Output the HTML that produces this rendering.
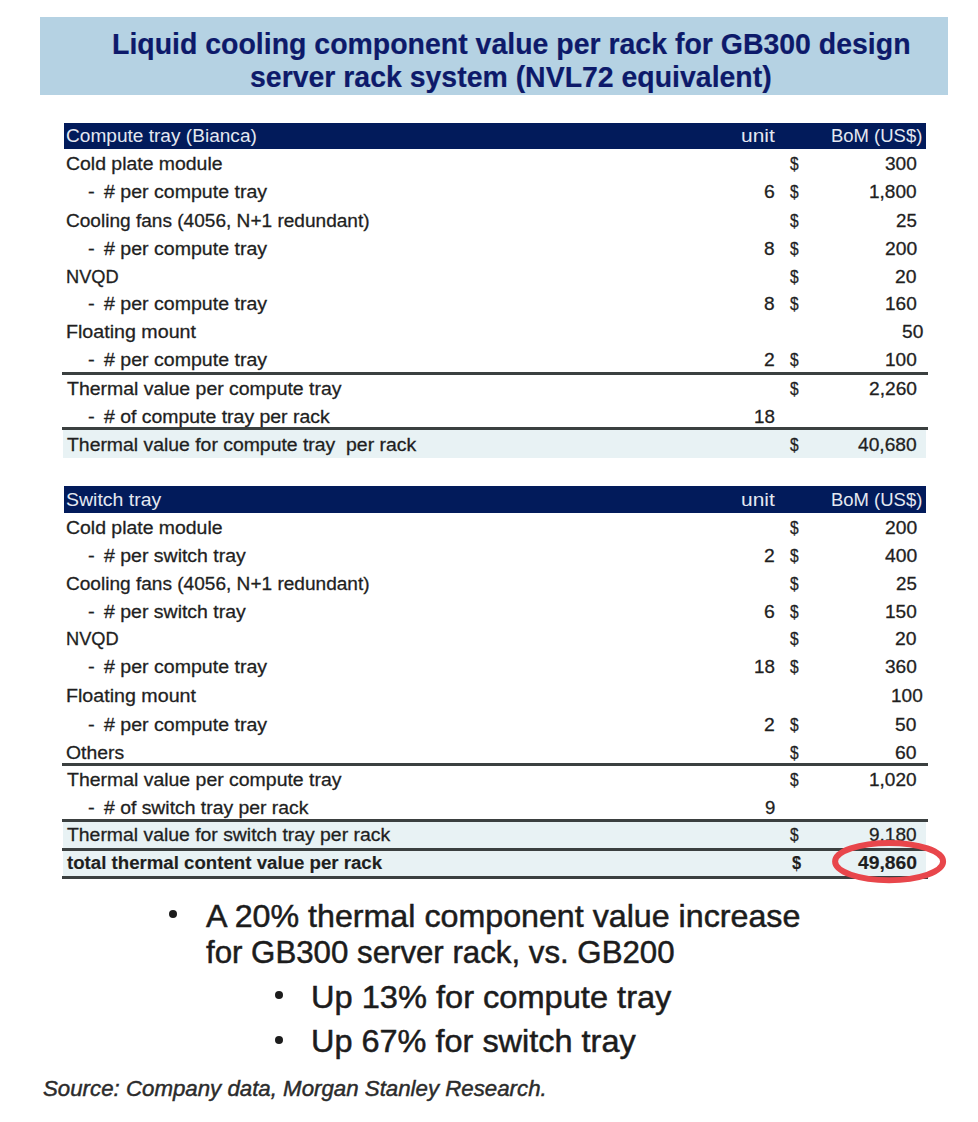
<!DOCTYPE html>
<html><head><meta charset="utf-8"><style>
html,body{margin:0;padding:0;background:#fff;}
body{width:978px;height:1122px;position:relative;overflow:hidden;font-family:"Liberation Sans", sans-serif;}
#w{position:absolute;left:0;top:0;width:978px;height:1122px;}
.t{position:absolute;white-space:pre;line-height:1;transform-origin:0 0;-webkit-text-stroke:0.3px currentColor;}
.r{position:absolute;}
</style></head><body><div id="w">
<div class="r" style="left:40.20px;top:16.80px;width:908.30px;height:77.90px;background:#b5d2e3"></div>
<div class="t" style="left:111.80px;top:30.00px;font-size:28.8px;font-weight:bold;color:#0d1a6a;-webkit-text-stroke:0.2px currentColor;transform:scaleX(0.9882)">Liquid cooling component value per rack for GB300 design</div>
<div class="t" style="left:250.30px;top:63.00px;font-size:28.8px;font-weight:bold;color:#0d1a6a;-webkit-text-stroke:0.2px currentColor;transform:scaleX(0.9876)">server rack system (NVL72 equivalent)</div>
<div class="r" style="left:63.70px;top:122.70px;width:862.80px;height:26.80px;background:#021b5b"></div>
<div class="t" style="left:66.03px;top:127.00px;font-size:18.9px;font-weight:normal;font-style:normal;color:#e4e8f1;transform:scaleX(1.0099);-webkit-text-stroke:0">Compute tray (Bianca)</div>
<div class="t" style="left:740.57px;top:127.00px;font-size:18.9px;font-weight:normal;font-style:normal;color:#e4e8f1;transform:scaleX(1.1086);-webkit-text-stroke:0">unit</div>
<div class="t" style="left:831.10px;top:127.00px;font-size:18.9px;font-weight:normal;font-style:normal;color:#e4e8f1;transform:scaleX(0.9773);-webkit-text-stroke:0">BoM (US$)</div>
<div class="r" style="left:62.00px;top:372.20px;width:865.70px;height:3.00px;background:#3b4040"></div>
<div class="r" style="left:62.60px;top:430.00px;width:863.90px;height:27.50px;background:#e8f2f4"></div>
<div class="r" style="left:62.00px;top:427.00px;width:865.70px;height:3.00px;background:#3b4040"></div>
<div class="t" style="left:66.31px;top:155.00px;font-size:18.9px;font-weight:normal;font-style:normal;color:#1f1f1f;transform:scaleX(1.0279);">Cold plate module</div>
<div class="t" style="left:790.33px;top:155.00px;font-size:18.9px;font-weight:normal;font-style:normal;color:#1f1f1f;transform:scaleX(0.8200);">$</div>
<div class="t" style="left:884.86px;top:155.00px;font-size:18.9px;font-weight:normal;font-style:normal;color:#1f1f1f;transform:scaleX(1.0112);">300</div>
<div class="t" style="left:87.81px;top:183.00px;font-size:18.9px;font-weight:normal;font-style:normal;color:#1f1f1f;transform:scaleX(1.0622);">-</div>
<div class="t" style="left:104.21px;top:183.00px;font-size:18.9px;font-weight:normal;font-style:normal;color:#1f1f1f;transform:scaleX(1.0356);"># per compute tray</div>
<div class="t" style="left:764.24px;top:183.00px;font-size:18.9px;font-weight:normal;font-style:normal;color:#1f1f1f;transform:scaleX(1.0288);">6</div>
<div class="t" style="left:790.33px;top:183.00px;font-size:18.9px;font-weight:normal;font-style:normal;color:#1f1f1f;transform:scaleX(0.8200);">$</div>
<div class="t" style="left:869.09px;top:183.00px;font-size:18.9px;font-weight:normal;font-style:normal;color:#1f1f1f;transform:scaleX(1.0075);">1,800</div>
<div class="t" style="left:66.33px;top:212.00px;font-size:18.9px;font-weight:normal;font-style:normal;color:#1f1f1f;transform:scaleX(1.0091);">Cooling fans (4056, N+1 redundant)</div>
<div class="t" style="left:790.33px;top:212.00px;font-size:18.9px;font-weight:normal;font-style:normal;color:#1f1f1f;transform:scaleX(0.8200);">$</div>
<div class="t" style="left:895.96px;top:212.00px;font-size:18.9px;font-weight:normal;font-style:normal;color:#1f1f1f;transform:scaleX(0.9909);">25</div>
<div class="t" style="left:87.81px;top:240.00px;font-size:18.9px;font-weight:normal;font-style:normal;color:#1f1f1f;transform:scaleX(1.0622);">-</div>
<div class="t" style="left:104.21px;top:240.00px;font-size:18.9px;font-weight:normal;font-style:normal;color:#1f1f1f;transform:scaleX(1.0356);"># per compute tray</div>
<div class="t" style="left:764.41px;top:240.00px;font-size:18.9px;font-weight:normal;font-style:normal;color:#1f1f1f;transform:scaleX(1.0105);">8</div>
<div class="t" style="left:790.33px;top:240.00px;font-size:18.9px;font-weight:normal;font-style:normal;color:#1f1f1f;transform:scaleX(0.8200);">$</div>
<div class="t" style="left:884.59px;top:240.00px;font-size:18.9px;font-weight:normal;font-style:normal;color:#1f1f1f;transform:scaleX(1.0201);">200</div>
<div class="t" style="left:65.80px;top:268.00px;font-size:18.9px;font-weight:normal;font-style:normal;color:#1f1f1f;transform:scaleX(0.9646);">NVQD</div>
<div class="t" style="left:790.33px;top:268.00px;font-size:18.9px;font-weight:normal;font-style:normal;color:#1f1f1f;transform:scaleX(0.8200);">$</div>
<div class="t" style="left:895.23px;top:268.00px;font-size:18.9px;font-weight:normal;font-style:normal;color:#1f1f1f;transform:scaleX(1.0241);">20</div>
<div class="t" style="left:87.81px;top:295.00px;font-size:18.9px;font-weight:normal;font-style:normal;color:#1f1f1f;transform:scaleX(1.0622);">-</div>
<div class="t" style="left:104.21px;top:295.00px;font-size:18.9px;font-weight:normal;font-style:normal;color:#1f1f1f;transform:scaleX(1.0356);"># per compute tray</div>
<div class="t" style="left:764.41px;top:295.00px;font-size:18.9px;font-weight:normal;font-style:normal;color:#1f1f1f;transform:scaleX(1.0105);">8</div>
<div class="t" style="left:790.33px;top:295.00px;font-size:18.9px;font-weight:normal;font-style:normal;color:#1f1f1f;transform:scaleX(0.8200);">$</div>
<div class="t" style="left:884.98px;top:295.00px;font-size:18.9px;font-weight:normal;font-style:normal;color:#1f1f1f;transform:scaleX(1.0074);">160</div>
<div class="t" style="left:65.69px;top:323.00px;font-size:18.9px;font-weight:normal;font-style:normal;color:#1f1f1f;transform:scaleX(1.0402);">Floating mount</div>
<div class="t" style="left:901.64px;top:323.00px;font-size:18.9px;font-weight:normal;font-style:normal;color:#1f1f1f;transform:scaleX(1.0134);">50</div>
<div class="t" style="left:87.81px;top:351.00px;font-size:18.9px;font-weight:normal;font-style:normal;color:#1f1f1f;transform:scaleX(1.0622);">-</div>
<div class="t" style="left:104.21px;top:351.00px;font-size:18.9px;font-weight:normal;font-style:normal;color:#1f1f1f;transform:scaleX(1.0356);"># per compute tray</div>
<div class="t" style="left:764.42px;top:351.00px;font-size:18.9px;font-weight:normal;font-style:normal;color:#1f1f1f;transform:scaleX(1.0230);">2</div>
<div class="t" style="left:790.33px;top:351.00px;font-size:18.9px;font-weight:normal;font-style:normal;color:#1f1f1f;transform:scaleX(0.8200);">$</div>
<div class="t" style="left:884.98px;top:351.00px;font-size:18.9px;font-weight:normal;font-style:normal;color:#1f1f1f;transform:scaleX(1.0074);">100</div>
<div class="t" style="left:66.86px;top:380.00px;font-size:18.9px;font-weight:normal;font-style:normal;color:#1f1f1f;transform:scaleX(1.0292);">Thermal value per compute tray</div>
<div class="t" style="left:790.33px;top:380.00px;font-size:18.9px;font-weight:normal;font-style:normal;color:#1f1f1f;transform:scaleX(0.8200);">$</div>
<div class="t" style="left:868.71px;top:380.00px;font-size:18.9px;font-weight:normal;font-style:normal;color:#1f1f1f;transform:scaleX(1.0158);">2,260</div>
<div class="t" style="left:87.81px;top:408.00px;font-size:18.9px;font-weight:normal;font-style:normal;color:#1f1f1f;transform:scaleX(1.0622);">-</div>
<div class="t" style="left:104.21px;top:408.00px;font-size:18.9px;font-weight:normal;font-style:normal;color:#1f1f1f;transform:scaleX(1.0285);"># of compute tray per rack</div>
<div class="t" style="left:754.14px;top:408.00px;font-size:18.9px;font-weight:normal;font-style:normal;color:#1f1f1f;transform:scaleX(0.9931);">18</div>
<div class="t" style="left:66.86px;top:436.00px;font-size:18.9px;font-weight:normal;font-style:normal;color:#1f1f1f;transform:scaleX(1.0263);">Thermal value for compute tray  per rack</div>
<div class="t" style="left:790.33px;top:436.00px;font-size:18.9px;font-weight:normal;font-style:normal;color:#1f1f1f;transform:scaleX(0.8200);">$</div>
<div class="t" style="left:858.00px;top:436.00px;font-size:18.9px;font-weight:normal;font-style:normal;color:#1f1f1f;transform:scaleX(1.0162);">40,680</div>
<div class="r" style="left:63.70px;top:485.50px;width:862.80px;height:27.00px;background:#021b5b"></div>
<div class="t" style="left:66.11px;top:491.00px;font-size:18.9px;font-weight:normal;font-style:normal;color:#e4e8f1;transform:scaleX(1.0312);-webkit-text-stroke:0">Switch tray</div>
<div class="t" style="left:740.57px;top:491.00px;font-size:18.9px;font-weight:normal;font-style:normal;color:#e4e8f1;transform:scaleX(1.1086);-webkit-text-stroke:0">unit</div>
<div class="t" style="left:831.10px;top:491.00px;font-size:18.9px;font-weight:normal;font-style:normal;color:#e4e8f1;transform:scaleX(0.9773);-webkit-text-stroke:0">BoM (US$)</div>
<div class="r" style="left:62.00px;top:763.00px;width:865.70px;height:3.00px;background:#3b4040"></div>
<div class="r" style="left:62.60px;top:822.00px;width:863.90px;height:54.00px;background:#e8f2f4"></div>
<div class="r" style="left:62.00px;top:819.00px;width:865.70px;height:3.00px;background:#3b4040"></div>
<div class="r" style="left:62.00px;top:848.00px;width:865.70px;height:3.00px;background:#3b4040"></div>
<div class="r" style="left:62.00px;top:876.00px;width:865.70px;height:3.00px;background:#3b4040"></div>
<div class="t" style="left:66.31px;top:519.00px;font-size:18.9px;font-weight:normal;font-style:normal;color:#1f1f1f;transform:scaleX(1.0279);">Cold plate module</div>
<div class="t" style="left:790.33px;top:519.00px;font-size:18.9px;font-weight:normal;font-style:normal;color:#1f1f1f;transform:scaleX(0.8200);">$</div>
<div class="t" style="left:884.59px;top:519.00px;font-size:18.9px;font-weight:normal;font-style:normal;color:#1f1f1f;transform:scaleX(1.0201);">200</div>
<div class="t" style="left:87.81px;top:547.00px;font-size:18.9px;font-weight:normal;font-style:normal;color:#1f1f1f;transform:scaleX(1.0622);">-</div>
<div class="t" style="left:104.21px;top:547.00px;font-size:18.9px;font-weight:normal;font-style:normal;color:#1f1f1f;transform:scaleX(1.0313);"># per switch tray</div>
<div class="t" style="left:764.42px;top:547.00px;font-size:18.9px;font-weight:normal;font-style:normal;color:#1f1f1f;transform:scaleX(1.0230);">2</div>
<div class="t" style="left:790.33px;top:547.00px;font-size:18.9px;font-weight:normal;font-style:normal;color:#1f1f1f;transform:scaleX(0.8200);">$</div>
<div class="t" style="left:884.53px;top:547.00px;font-size:18.9px;font-weight:normal;font-style:normal;color:#1f1f1f;transform:scaleX(1.0220);">400</div>
<div class="t" style="left:66.33px;top:575.00px;font-size:18.9px;font-weight:normal;font-style:normal;color:#1f1f1f;transform:scaleX(1.0091);">Cooling fans (4056, N+1 redundant)</div>
<div class="t" style="left:790.33px;top:575.00px;font-size:18.9px;font-weight:normal;font-style:normal;color:#1f1f1f;transform:scaleX(0.8200);">$</div>
<div class="t" style="left:895.96px;top:575.00px;font-size:18.9px;font-weight:normal;font-style:normal;color:#1f1f1f;transform:scaleX(0.9909);">25</div>
<div class="t" style="left:87.81px;top:603.00px;font-size:18.9px;font-weight:normal;font-style:normal;color:#1f1f1f;transform:scaleX(1.0622);">-</div>
<div class="t" style="left:104.21px;top:603.00px;font-size:18.9px;font-weight:normal;font-style:normal;color:#1f1f1f;transform:scaleX(1.0313);"># per switch tray</div>
<div class="t" style="left:764.24px;top:603.00px;font-size:18.9px;font-weight:normal;font-style:normal;color:#1f1f1f;transform:scaleX(1.0288);">6</div>
<div class="t" style="left:790.33px;top:603.00px;font-size:18.9px;font-weight:normal;font-style:normal;color:#1f1f1f;transform:scaleX(0.8200);">$</div>
<div class="t" style="left:884.98px;top:603.00px;font-size:18.9px;font-weight:normal;font-style:normal;color:#1f1f1f;transform:scaleX(1.0074);">150</div>
<div class="t" style="left:65.80px;top:630.00px;font-size:18.9px;font-weight:normal;font-style:normal;color:#1f1f1f;transform:scaleX(0.9646);">NVQD</div>
<div class="t" style="left:790.33px;top:630.00px;font-size:18.9px;font-weight:normal;font-style:normal;color:#1f1f1f;transform:scaleX(0.8200);">$</div>
<div class="t" style="left:895.23px;top:630.00px;font-size:18.9px;font-weight:normal;font-style:normal;color:#1f1f1f;transform:scaleX(1.0241);">20</div>
<div class="t" style="left:87.81px;top:658.00px;font-size:18.9px;font-weight:normal;font-style:normal;color:#1f1f1f;transform:scaleX(1.0622);">-</div>
<div class="t" style="left:104.21px;top:658.00px;font-size:18.9px;font-weight:normal;font-style:normal;color:#1f1f1f;transform:scaleX(1.0356);"># per compute tray</div>
<div class="t" style="left:754.14px;top:658.00px;font-size:18.9px;font-weight:normal;font-style:normal;color:#1f1f1f;transform:scaleX(0.9931);">18</div>
<div class="t" style="left:790.33px;top:658.00px;font-size:18.9px;font-weight:normal;font-style:normal;color:#1f1f1f;transform:scaleX(0.8200);">$</div>
<div class="t" style="left:884.86px;top:658.00px;font-size:18.9px;font-weight:normal;font-style:normal;color:#1f1f1f;transform:scaleX(1.0112);">360</div>
<div class="t" style="left:65.69px;top:687.00px;font-size:18.9px;font-weight:normal;font-style:normal;color:#1f1f1f;transform:scaleX(1.0402);">Floating mount</div>
<div class="t" style="left:891.18px;top:687.00px;font-size:18.9px;font-weight:normal;font-style:normal;color:#1f1f1f;transform:scaleX(1.0074);">100</div>
<div class="t" style="left:87.81px;top:716.00px;font-size:18.9px;font-weight:normal;font-style:normal;color:#1f1f1f;transform:scaleX(1.0622);">-</div>
<div class="t" style="left:104.21px;top:716.00px;font-size:18.9px;font-weight:normal;font-style:normal;color:#1f1f1f;transform:scaleX(1.0356);"># per compute tray</div>
<div class="t" style="left:764.42px;top:716.00px;font-size:18.9px;font-weight:normal;font-style:normal;color:#1f1f1f;transform:scaleX(1.0230);">2</div>
<div class="t" style="left:790.33px;top:716.00px;font-size:18.9px;font-weight:normal;font-style:normal;color:#1f1f1f;transform:scaleX(0.8200);">$</div>
<div class="t" style="left:895.44px;top:716.00px;font-size:18.9px;font-weight:normal;font-style:normal;color:#1f1f1f;transform:scaleX(1.0134);">50</div>
<div class="t" style="left:66.38px;top:744.00px;font-size:18.9px;font-weight:normal;font-style:normal;color:#1f1f1f;transform:scaleX(1.0248);">Others</div>
<div class="t" style="left:790.33px;top:744.00px;font-size:18.9px;font-weight:normal;font-style:normal;color:#1f1f1f;transform:scaleX(0.8200);">$</div>
<div class="t" style="left:895.22px;top:744.00px;font-size:18.9px;font-weight:normal;font-style:normal;color:#1f1f1f;transform:scaleX(1.0246);">60</div>
<div class="t" style="left:66.86px;top:771.00px;font-size:18.9px;font-weight:normal;font-style:normal;color:#1f1f1f;transform:scaleX(1.0292);">Thermal value per compute tray</div>
<div class="t" style="left:790.33px;top:771.00px;font-size:18.9px;font-weight:normal;font-style:normal;color:#1f1f1f;transform:scaleX(0.8200);">$</div>
<div class="t" style="left:869.09px;top:771.00px;font-size:18.9px;font-weight:normal;font-style:normal;color:#1f1f1f;transform:scaleX(1.0075);">1,020</div>
<div class="t" style="left:87.81px;top:799.00px;font-size:18.9px;font-weight:normal;font-style:normal;color:#1f1f1f;transform:scaleX(1.0622);">-</div>
<div class="t" style="left:104.21px;top:799.00px;font-size:18.9px;font-weight:normal;font-style:normal;color:#1f1f1f;transform:scaleX(1.0248);"># of switch tray per rack</div>
<div class="t" style="left:764.75px;top:799.00px;font-size:18.9px;font-weight:normal;font-style:normal;color:#1f1f1f;transform:scaleX(0.9831);">9</div>
<div class="t" style="left:66.86px;top:826.00px;font-size:18.9px;font-weight:normal;font-style:normal;color:#1f1f1f;transform:scaleX(1.0259);">Thermal value for switch tray per rack</div>
<div class="t" style="left:790.33px;top:826.00px;font-size:18.9px;font-weight:normal;font-style:normal;color:#1f1f1f;transform:scaleX(0.8200);">$</div>
<div class="t" style="left:869.18px;top:826.00px;font-size:18.9px;font-weight:normal;font-style:normal;color:#1f1f1f;transform:scaleX(1.0056);">9,180</div>
<div class="t" style="left:67.07px;top:854.00px;font-size:18.9px;font-weight:bold;font-style:normal;color:#1f1f1f;transform:scaleX(0.9873);-webkit-text-stroke:0.15px currentColor;">total thermal content value per rack</div>
<div class="t" style="left:792.28px;top:854.00px;font-size:18.9px;font-weight:bold;font-style:normal;color:#1f1f1f;transform:scaleX(0.8649);-webkit-text-stroke:0.15px currentColor;">$</div>
<div class="t" style="left:857.66px;top:854.00px;font-size:18.9px;font-weight:bold;font-style:normal;color:#1f1f1f;transform:scaleX(1.0229);-webkit-text-stroke:0.15px currentColor;">49,860</div>
<svg class="r" style="left:0;top:0" width="978" height="1122" viewBox="0 0 978 1122"><ellipse cx="889.1" cy="861.6" rx="54" ry="18.6" fill="none" stroke="#e8464b" stroke-width="6"/></svg>
<div class="t" style="left:205.94px;top:901.00px;font-size:31.6px;font-weight:normal;font-style:normal;color:#1c1c1c;transform:scaleX(1.0193);-webkit-text-stroke:0.5px currentColor;">A 20% thermal component value increase</div>
<div class="t" style="left:205.56px;top:937.00px;font-size:31.6px;font-weight:normal;font-style:normal;color:#1c1c1c;transform:scaleX(0.9884);-webkit-text-stroke:0.5px currentColor;">for GB300 server rack, vs. GB200</div>
<div class="t" style="left:310.79px;top:982.00px;font-size:31.6px;font-weight:normal;font-style:normal;color:#1c1c1c;transform:scaleX(1.0314);-webkit-text-stroke:0.5px currentColor;">Up 13% for compute tray</div>
<div class="t" style="left:310.80px;top:1026.00px;font-size:31.6px;font-weight:normal;font-style:normal;color:#1c1c1c;transform:scaleX(1.0273);-webkit-text-stroke:0.5px currentColor;">Up 67% for switch tray</div>
<div class="r" style="left:169.3px;top:910.1999999999999px;width:8.2px;height:8.2px;border-radius:50%;background:#1c1c1c"></div>
<div class="r" style="left:274.9px;top:991.1999999999999px;width:8.2px;height:8.2px;border-radius:50%;background:#1c1c1c"></div>
<div class="r" style="left:274.9px;top:1035.9px;width:8.2px;height:8.2px;border-radius:50%;background:#1c1c1c"></div>
<div class="t" style="left:43.17px;top:1078px;font-size:22.1px;font-style:italic;color:#2b2b2b;-webkit-text-stroke:0.45px currentColor;transform:scaleX(1.0078)">Source: Company data, Morgan Stanley Research.</div>
</div></body></html>
